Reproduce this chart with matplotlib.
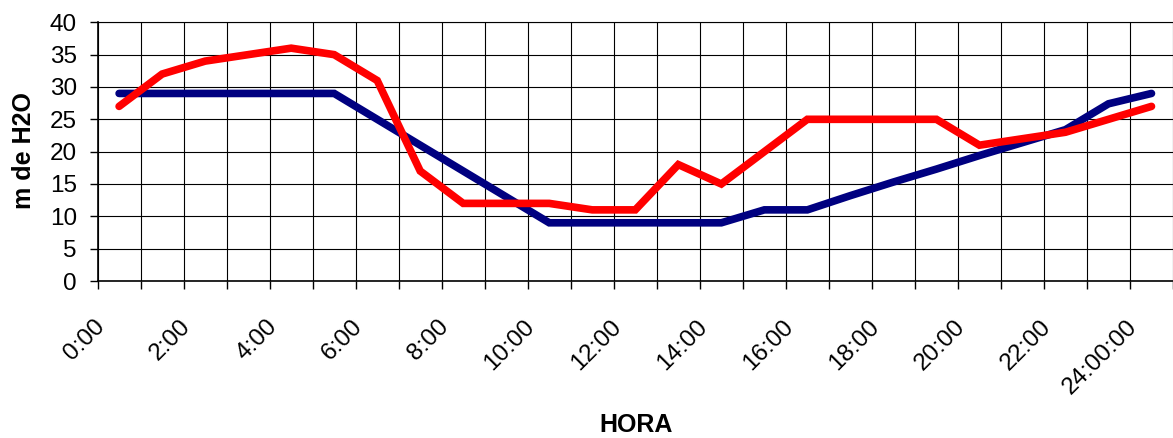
import matplotlib
matplotlib.use("Agg")
import matplotlib.pyplot as plt
import matplotlib.transforms as mtransforms
import numpy as np

hours = ["0:00", "1:00", "2:00", "3:00", "4:00", "5:00", "6:00", "7:00", "8:00",
         "9:00", "10:00", "11:00", "12:00", "13:00", "14:00", "15:00", "16:00",
         "17:00", "18:00", "19:00", "20:00", "21:00", "22:00", "23:00", "24:00:00"]
red_values = [27, 32, 34, 35, 36, 35, 31, 17, 12, 12, 12, 11, 11, 18, 15, 20,
              25, 25, 25, 25, 21, 22, 23, 25, 27]
blue_values = [29, 29, 29, 29, 29, 29, 25, 21, 17, 13, 9, 9, 9, 9, 9, 11,
               11, 13.2, 15.3, 17.3, 19.4, 21.4, 23.4, 27.4, 29]
y_ticks = [0, 5, 10, 15, 20, 25, 30, 35, 40]
x_title = "HORA"
y_title = "m de H2O"

plt.rcParams['font.family'] = ['Liberation Sans', 'DejaVu Sans']

W, H = 1173, 438
fig = plt.figure(figsize=(W / 100, H / 100), dpi=100)
ax = fig.add_axes([97.6 / W, 1 - 281 / H, (W - 97.6) / W, (281 - 22.3) / H])

x = np.arange(len(hours))
ax.plot(x, blue_values, color="#000080", lw=5.5, solid_capstyle="round",
        solid_joinstyle="miter", zorder=3)
ax.plot(x, red_values, color="#FF0000", lw=5.5, solid_capstyle="round",
        solid_joinstyle="miter", zorder=4)

ax.set_xlim(-0.5, len(hours) - 0.5)
ax.set_ylim(0, 40)
ax.set_yticks(y_ticks)
ax.set_yticklabels([str(v) for v in y_ticks], fontsize=17.5)

boundaries = np.arange(len(hours) + 1) - 0.5
ax.set_xticks(boundaries)
ax.set_xticklabels([""] * len(boundaries))
ax.set_xticks(x[::2], minor=True)
ax.set_xticklabels(hours[::2], minor=True, rotation=45, ha="right", va="top",
                   fontsize=17.5)
ax.tick_params(axis="x", which="major", direction="out", length=6, width=1)
ax.tick_params(axis="x", which="minor", length=0, pad=25)
ax.tick_params(axis="y", direction="out", length=6, width=1, pad=9)

offset = mtransforms.ScaledTranslation(-10 / 100, 0, fig.dpi_scale_trans)
for lab in ax.get_xticklabels(minor=True):
    lab.set_transform(lab.get_transform() + offset)

ax.grid(True, which="major", color="black", lw=0.8)
ax.set_axisbelow(True)
ax.spines["right"].set_visible(False)
ax.spines["top"].set_linewidth(0.8)
ax.spines["left"].set_linewidth(1.2)
ax.spines["bottom"].set_linewidth(1.2)

fig.text(636 / W, 1 - 432 / H, x_title, fontsize=18, fontweight="bold",
         ha="center", va="baseline")
fig.text(24 / W, 1 - 151 / H, y_title, fontsize=18, fontweight="bold",
         ha="center", va="center", rotation=90)

fig.savefig("out.png", dpi=100)
